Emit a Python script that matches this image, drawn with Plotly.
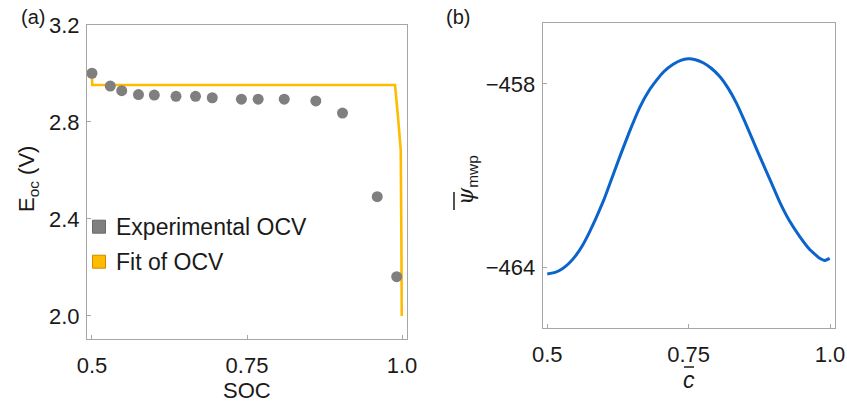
import plotly.graph_objects as go

W, H = 847, 406

# Panel (a): experimental OCV points
soc_exp = [0.500, 0.5295, 0.548, 0.575, 0.6005, 0.6355, 0.667, 0.694, 0.741, 0.768, 0.810, 0.861, 0.904, 0.960, 0.9914]
e_exp = [3.001, 2.948, 2.929, 2.913, 2.911, 2.906, 2.906, 2.900, 2.894, 2.894, 2.894, 2.887, 2.837, 2.492, 2.162]

# Panel (a): fitted OCV curve
soc_fit = [0.500, 0.5005, 0.700, 0.900, 0.9887, 0.9935, 0.9979, 0.9990, 0.9995]
e_fit = [2.990, 2.9526, 2.9526, 2.9526, 2.9526, 2.82, 2.684, 2.30, 2.000]

# Panel (b): psi_mwp vs c-bar
c_bar = [0.500, 0.514, 0.526, 0.538, 0.550, 0.562, 0.574, 0.586, 0.600, 0.615, 0.630, 0.645, 0.6638,
         0.680, 0.693, 0.705, 0.7226, 0.736, 0.7491, 0.762, 0.7756, 0.790, 0.805, 0.820, 0.8345,
         0.849, 0.8728, 0.8965, 0.9111, 0.9288, 0.9465, 0.964, 0.9818, 0.9906, 0.9995]
psi = [-464.22, -464.17, -464.06, -463.88, -463.63, -463.30, -462.88, -462.40, -461.80, -461.05, -460.30,
       -459.58, -458.76, -458.22, -457.89, -457.62, -457.36, -457.23, -457.18, -457.21, -457.31, -457.49,
       -457.76, -458.15, -458.63, -459.22, -460.25, -461.25, -461.87, -462.50, -463.00, -463.42, -463.71,
       -463.78, -463.71]

a_xticks = [0.5, 0.75, 1.0]
a_xticktext = ["0.5", "0.75", "1.0"]
a_yticks = [2.0, 2.4, 2.8, 3.2]
a_yticktext = ["2.0", "2.4", "2.8", "3.2"]
b_xticks = [0.5, 0.75, 1.0]
b_xticktext = ["0.5", "0.75", "1.0"]
b_yticks = [-464, -458]

legend_names = ["Experimental OCV", "Fit of OCV"]

GRAY = "#7f7f7f"
YELLOW = "#FFBB00"
BLUE = "#0a64cc"
FONT = "Liberation Sans, Arial, sans-serif"
FRAME = "#a6a6a6"
TXT = "#1a1a1a"

fig = go.Figure()

fig.add_trace(go.Scatter(x=soc_fit, y=e_fit, mode="lines", line=dict(color=YELLOW, width=2.6),
                         name=legend_names[1], showlegend=False, xaxis="x", yaxis="y"))
fig.add_trace(go.Scatter(x=soc_exp, y=e_exp, mode="markers",
                         marker=dict(color=GRAY, size=11, line=dict(width=0)),
                         name=legend_names[0], showlegend=False, xaxis="x", yaxis="y"))
fig.add_trace(go.Scatter(x=c_bar, y=psi, mode="lines",
                         line=dict(color=BLUE, width=3, shape="spline", smoothing=0.3),
                         showlegend=False, xaxis="x2", yaxis="y2"))

axis_common = dict(showline=True, mirror=True, linecolor=FRAME, linewidth=1.2, showgrid=False, zeroline=False,
                   automargin=False, ticks="inside", ticklen=4, tickcolor=FRAME,
                   tickfont=dict(family=FONT, size=22, color=TXT))

fig.update_layout(
    template="none",
    width=W, height=H, margin=dict(l=0, r=0, t=0, b=0, pad=0),
    paper_bgcolor="white", plot_bgcolor="white",
    xaxis=dict(domain=[87 / W, 407 / W], range=[0.492, 1.008], tickvals=a_xticks, ticktext=a_xticktext,
               anchor="y", ticklabelstandoff=6, **axis_common),
    yaxis=dict(domain=[1 - 339 / H, 1 - 25 / H], range=[1.905, 3.2], tickvals=a_yticks, ticktext=a_yticktext,
               anchor="x", ticklabelstandoff=2, **axis_common),
    xaxis2=dict(domain=[542.7 / W, 835 / W], range=[0.4919, 1.0088], tickvals=b_xticks, ticktext=b_xticktext,
                anchor="y2", ticklabelstandoff=6, **axis_common),
    yaxis2=dict(domain=[1 - 328.3 / H, 1 - 22.7 / H], range=[-466.0, -456.0], tickvals=b_yticks,
                anchor="x2", ticklabelstandoff=2, **axis_common),
    showlegend=False,
)


def ann(text, x, y, size=22, family=FONT, angle=0, xanchor="center"):
    fig.add_annotation(text=text, x=x / W, y=1 - y / H, xref="paper", yref="paper", showarrow=False,
                       xanchor=xanchor, yanchor="middle", textangle=angle,
                       font=dict(family=family, size=size, color=TXT))


ann("(a)", 33, 17, size=20)
ann("(b)", 458, 17, size=20)
ann("SOC", 247, 390)
ann("E<sub>oc</sub> (V)", 28, 179, angle=-90)

# legend of panel (a)
legend_colors = [(GRAY, "#6a6a6a"), (YELLOW, "#d08a00")]
legend_rows = [226.7, 261.7]
for name, (fc, lc), yy in zip(legend_names, legend_colors, legend_rows):
    fig.add_shape(type="rect", xref="paper", yref="paper", x0=92.5 / W, x1=105.5 / W,
                  y0=1 - (yy + 6.5) / H, y1=1 - (yy - 6.5) / H, fillcolor=fc, line=dict(color=lc, width=1))
    ann(name, 114, yy + 0.5, size=23, xanchor="left")

# x label of panel (b): italic c with overline
ann("<i>c</i>", 689, 380, size=23)
fig.add_shape(type="line", xref="paper", yref="paper", x0=684 / W, x1=694 / W, y0=1 - 367 / H, y1=1 - 367 / H,
              line=dict(color=TXT, width=1.5))
# y label of panel (b): italic psi with overline, subscript mwp
ann("<i>\u03c8</i><sub><span style=\"font-family:'Liberation Sans', Arial, sans-serif\">mwp</span></sub>",
    467, 180, size=22, family="DejaVu Serif, Liberation Serif, serif", angle=-90)
fig.add_shape(type="line", xref="paper", yref="paper", x0=454 / W, x1=454 / W, y0=1 - 192 / H, y1=1 - 210 / H,
              line=dict(color=TXT, width=1.5))

fig.write_html("out.html")
